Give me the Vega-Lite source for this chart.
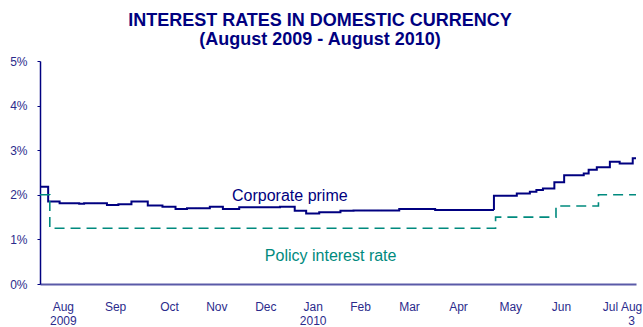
{
  "$schema": "https://vega.github.io/schema/vega-lite/v6.json",
  "width": 596,
  "height": 223,
  "autosize": {"type": "none"},
  "padding": {"left": 40, "top": 61, "right": 7, "bottom": 43},
  "background": "white",
  "title": {
    "text": ["INTEREST RATES IN DOMESTIC CURRENCY", "(August 2009 - August 2010)"],
    "font": "Liberation Sans",
    "fontSize": 18,
    "fontWeight": "bold",
    "color": "#000080",
    "lineHeight": 19,
    "anchor": "middle",
    "dx": -18,
    "offset": 6
  },
  "config": {
    "view": {"stroke": null},
    "font": "Liberation Sans"
  },
  "datasets": {
    "rates": [
      {"date": "2009-07-31", "series": "Corporate prime", "value": 2.18},
      {"date": "2009-08-05", "series": "Corporate prime", "value": 1.85},
      {"date": "2009-08-12", "series": "Corporate prime", "value": 1.81},
      {"date": "2009-08-24", "series": "Corporate prime", "value": 1.80},
      {"date": "2009-08-27", "series": "Corporate prime", "value": 1.81},
      {"date": "2009-09-10", "series": "Corporate prime", "value": 1.77},
      {"date": "2009-09-17", "series": "Corporate prime", "value": 1.79},
      {"date": "2009-09-25", "series": "Corporate prime", "value": 1.85},
      {"date": "2009-10-05", "series": "Corporate prime", "value": 1.76},
      {"date": "2009-10-14", "series": "Corporate prime", "value": 1.73},
      {"date": "2009-10-22", "series": "Corporate prime", "value": 1.68},
      {"date": "2009-10-29", "series": "Corporate prime", "value": 1.70},
      {"date": "2009-11-12", "series": "Corporate prime", "value": 1.73},
      {"date": "2009-11-20", "series": "Corporate prime", "value": 1.68},
      {"date": "2009-11-30", "series": "Corporate prime", "value": 1.72},
      {"date": "2009-12-25", "series": "Corporate prime", "value": 1.73},
      {"date": "2010-01-03", "series": "Corporate prime", "value": 1.64},
      {"date": "2010-01-10", "series": "Corporate prime", "value": 1.58},
      {"date": "2010-01-18", "series": "Corporate prime", "value": 1.61},
      {"date": "2010-01-31", "series": "Corporate prime", "value": 1.64},
      {"date": "2010-02-08", "series": "Corporate prime", "value": 1.65},
      {"date": "2010-03-08", "series": "Corporate prime", "value": 1.68},
      {"date": "2010-03-30", "series": "Corporate prime", "value": 1.66},
      {"date": "2010-05-05", "series": "Corporate prime", "value": 1.98},
      {"date": "2010-05-19", "series": "Corporate prime", "value": 2.03},
      {"date": "2010-05-27", "series": "Corporate prime", "value": 2.07},
      {"date": "2010-05-31", "series": "Corporate prime", "value": 2.11},
      {"date": "2010-06-04", "series": "Corporate prime", "value": 2.14},
      {"date": "2010-06-11", "series": "Corporate prime", "value": 2.28},
      {"date": "2010-06-17", "series": "Corporate prime", "value": 2.44},
      {"date": "2010-06-29", "series": "Corporate prime", "value": 2.48},
      {"date": "2010-07-02", "series": "Corporate prime", "value": 2.56},
      {"date": "2010-07-07", "series": "Corporate prime", "value": 2.62},
      {"date": "2010-07-15", "series": "Corporate prime", "value": 2.74},
      {"date": "2010-07-21", "series": "Corporate prime", "value": 2.70},
      {"date": "2010-07-29", "series": "Corporate prime", "value": 2.82},
      {"date": "2010-07-31", "series": "Corporate prime", "value": 2.84},
      {"date": "2009-07-31", "series": "Policy interest rate", "value": 2.0},
      {"date": "2009-08-06", "series": "Policy interest rate", "value": 1.25},
      {"date": "2010-05-06", "series": "Policy interest rate", "value": 1.5},
      {"date": "2010-06-12", "series": "Policy interest rate", "value": 1.75},
      {"date": "2010-07-08", "series": "Policy interest rate", "value": 2.0},
      {"date": "2010-07-31", "series": "Policy interest rate", "value": 2.0}
    ],
    "labels": [
      {"date": "2009-12-31", "value": 1.97, "label": "Corporate prime", "series": "Corporate prime"},
      {"date": "2010-01-25", "value": 0.63, "label": "Policy interest rate", "series": "Policy interest rate"}
    ]
  },
  "layer": [
    {
      "data": {"name": "rates"},
      "mark": {"type": "line", "interpolate": "step-after", "clip": true},
      "encoding": {
        "x": {
          "field": "date",
          "type": "temporal",
          "scale": {"type": "utc", "domain": [{"year": 2009, "month": 7, "date": 31, "utc": true}, {"year": 2010, "month": 7, "date": 31, "utc": true}]},
          "axis": {
            "title": null,
            "values": [
              {"year": 2009, "month": 8, "date": 14, "utc": true},
              {"year": 2009, "month": 9, "date": 15, "utc": true},
              {"year": 2009, "month": 10, "date": 18, "utc": true},
              {"year": 2009, "month": 11, "date": 16, "utc": true},
              {"year": 2009, "month": 12, "date": 16, "utc": true},
              {"year": 2010, "month": 1, "date": 14, "utc": true},
              {"year": 2010, "month": 2, "date": 12, "utc": true},
              {"year": 2010, "month": 3, "date": 14, "utc": true},
              {"year": 2010, "month": 4, "date": 13, "utc": true},
              {"year": 2010, "month": 5, "date": 15, "utc": true},
              {"year": 2010, "month": 6, "date": 15, "utc": true},
              {"year": 2010, "month": 7, "date": 15, "utc": true},
              {"year": 2010, "month": 7, "date": 28, "utc": true}
            ],
            "labelExpr": "utcmonth(datum.value)==7 && utcyear(datum.value)==2009 ? ['Aug','2009'] : utcmonth(datum.value)==0 ? ['Jan','2010'] : (utcmonth(datum.value)==6 && utcdate(datum.value)>20) ? ['Aug','3'] : utcFormat(datum.value,'%b')",
            "labelFont": "Liberation Sans",
            "labelFontSize": 12,
            "labelColor": "#2b2b8c",
            "labelLineHeight": 14,
            "labelBaseline": "top",
            "labelPadding": 17,
            "labelOverlap": false,
            "labelBound": false,
            "labelFlush": false,
            "ticks": false,
            "grid": false,
            "domainColor": "#5a5aa8",
            "domainWidth": 2
          }
        },
        "y": {
          "field": "value",
          "type": "quantitative",
          "scale": {"domain": [0, 5], "nice": false, "zero": true},
          "axis": {
            "title": null,
            "values": [0, 1, 2, 3, 4, 5],
            "labelExpr": "datum.value + '%'",
            "labelFont": "Liberation Sans",
            "labelFontSize": 12,
            "labelColor": "#2b2b8c",
            "labelPadding": 10,
            "tickSize": 3,
            "tickColor": "#000080",
            "domainColor": "#000080",
            "domainWidth": 1.5,
            "grid": false
          }
        },
        "color": {
          "field": "series",
          "type": "nominal",
          "scale": {"domain": ["Corporate prime", "Policy interest rate"], "range": ["#000080", "#008a7e"]},
          "legend": null
        },
        "strokeDash": {
          "field": "series",
          "type": "nominal",
          "scale": {"domain": ["Corporate prime", "Policy interest rate"], "range": [[1, 0], [10, 6]]},
          "legend": null
        },
        "strokeWidth": {
          "field": "series",
          "type": "nominal",
          "scale": {"domain": ["Corporate prime", "Policy interest rate"], "range": [2, 1.6]},
          "legend": null
        }
      }
    },
    {
      "data": {"name": "labels"},
      "mark": {"type": "text", "font": "Liberation Sans", "fontSize": 16, "align": "center", "baseline": "middle"},
      "encoding": {
        "x": {"field": "date", "type": "temporal"},
        "y": {"field": "value", "type": "quantitative"},
        "text": {"field": "label"},
        "color": {"field": "series", "type": "nominal", "legend": null}
      }
    }
  ]
}
